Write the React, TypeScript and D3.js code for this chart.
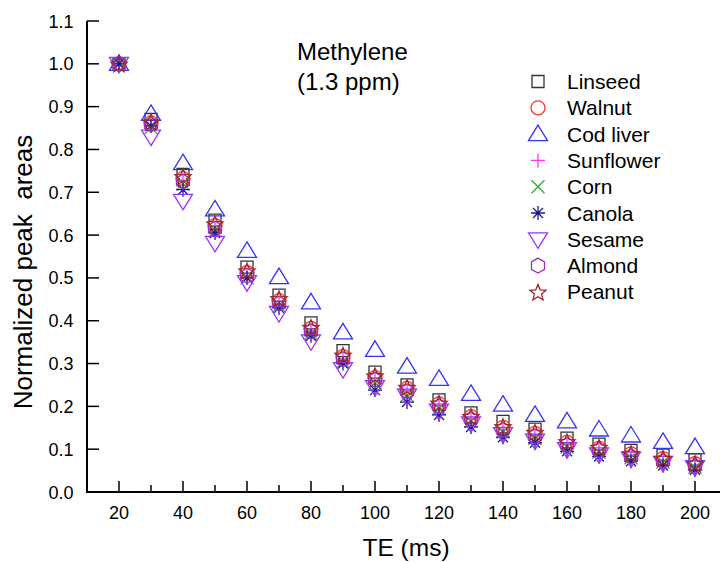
import React from "react";
import * as d3 from "d3";

const te = [20, 30, 40, 50, 60, 70, 80, 90, 100, 110, 120, 130, 140, 150, 160, 170, 180, 190, 200];

const linseed = [1.0, 0.87, 0.742, 0.635, 0.525, 0.46, 0.395, 0.33, 0.28, 0.25, 0.215, 0.185, 0.165, 0.147, 0.126, 0.112, 0.097, 0.086, 0.075];
const walnut = [1.0, 0.862, 0.732, 0.622, 0.512, 0.447, 0.382, 0.316, 0.267, 0.242, 0.206, 0.176, 0.151, 0.137, 0.116, 0.102, 0.089, 0.078, 0.066];
const codLiver = [1.0, 0.883, 0.768, 0.66, 0.563, 0.502, 0.443, 0.373, 0.332, 0.293, 0.264, 0.229, 0.204, 0.18, 0.165, 0.146, 0.132, 0.117, 0.105];
const sunflower = [1.0, 0.856, 0.726, 0.616, 0.506, 0.441, 0.376, 0.311, 0.261, 0.236, 0.201, 0.171, 0.146, 0.131, 0.111, 0.099, 0.086, 0.074, 0.063];
const corn = [1.0, 0.851, 0.72, 0.61, 0.5, 0.435, 0.37, 0.305, 0.255, 0.226, 0.195, 0.165, 0.14, 0.125, 0.105, 0.093, 0.08, 0.07, 0.058];
const canola = [1.0, 0.855, 0.706, 0.605, 0.5, 0.43, 0.365, 0.3, 0.238, 0.21, 0.18, 0.152, 0.128, 0.115, 0.095, 0.083, 0.072, 0.062, 0.052];
const sesame = [1.0, 0.83, 0.68, 0.582, 0.49, 0.418, 0.352, 0.287, 0.245, 0.225, 0.19, 0.16, 0.135, 0.12, 0.1, 0.088, 0.078, 0.068, 0.058];
const almond = [1.0, 0.858, 0.725, 0.615, 0.505, 0.44, 0.375, 0.31, 0.262, 0.235, 0.2, 0.17, 0.145, 0.13, 0.11, 0.098, 0.083, 0.072, 0.06];
const peanut = [1.0, 0.865, 0.737, 0.627, 0.517, 0.452, 0.385, 0.32, 0.272, 0.245, 0.208, 0.177, 0.153, 0.14, 0.118, 0.105, 0.09, 0.079, 0.067];

const seriesNames = ["Linseed", "Walnut", "Cod liver", "Sunflower", "Corn", "Canola", "Sesame", "Almond", "Peanut"];
const seriesValues = [linseed, walnut, codLiver, sunflower, corn, canola, sesame, almond, peanut];
const seriesColors = ["#333333", "#ff3333", "#3333ff", "#ff33ff", "#33aa33", "#1a1a8c", "#9933ff", "#9933bb", "#a02828"];
const seriesShapes = ["square", "circle", "triUp", "plus", "cross", "asterisk", "triDown", "hexagon", "star"];

const xTicks = [20, 40, 60, 80, 100, 120, 140, 160, 180, 200];
const xMinorTicks = [30, 50, 70, 90, 110, 130, 150, 170, 190];
const yTicks = [0.0, 0.1, 0.2, 0.3, 0.4, 0.5, 0.6, 0.7, 0.8, 0.9, 1.0, 1.1];

const FONT = "'Liberation Sans', Arial, sans-serif";

function markerPath(shape: string): string {
  switch (shape) {
    case "square":
      return "M-6,-6H6V6H-6Z";
    case "circle":
      return d3.arc()({ innerRadius: 0, outerRadius: 7, startAngle: 0, endAngle: 2 * Math.PI }) as string;
    case "triUp":
      return "M0,-9L9.5,6.5L-9.5,6.5Z";
    case "triDown":
      return "M0,9L9.5,-6.5L-9.5,-6.5Z";
    case "plus":
      return "M-7,0H7M0,-7V7";
    case "cross":
      return "M-6.5,-6.5L6.5,6.5M-6.5,6.5L6.5,-6.5";
    case "asterisk":
      return "M-7,0H7M0,-7V7M-5,-5L5,5M-5,5L5,-5";
    case "hexagon": {
      const pts = d3.range(6).map((i) => {
        const a = (Math.PI / 3) * i - Math.PI / 2;
        return [7.5 * Math.cos(a), 7.5 * Math.sin(a)];
      });
      return "M" + pts.map((p) => p.join(",")).join("L") + "Z";
    }
    case "star": {
      const pts = d3.range(10).map((i) => {
        const r = i % 2 === 0 ? 8.5 : 3.8;
        const a = (Math.PI / 5) * i - Math.PI / 2;
        return [r * Math.cos(a), r * Math.sin(a) + 1];
      });
      return "M" + pts.map((p) => p.join(",")).join("L") + "Z";
    }
  }
  return "";
}

export default function App() {
  const width = 720;
  const height = 562;
  const x = d3.scaleLinear().domain([10, 210]).range([87, 727]);
  const y = d3.scaleLinear().domain([0, 1.1]).range([492, 21]);

  return (
    <svg width={width} height={height} style={{ position: "absolute", left: 0, top: 0, background: "#fff" }}>
      <rect width={width} height={height} fill="#fff" />
      {/* axes */}
      <line x1={x(10)} x2={width} y1={y(0)} y2={y(0)} stroke="#000" strokeWidth={2} />
      <line x1={x(10)} x2={x(10)} y1={y(0) + 1} y2={y(1.1)} stroke="#000" strokeWidth={2} />
      {xTicks.map((t) => (
        <g key={"xt" + t}>
          <line x1={x(t)} x2={x(t)} y1={y(0)} y2={y(0) - 11} stroke="#000" strokeWidth={1.5} />
          <text x={x(t)} y={y(0) + 27} textAnchor="middle" fontFamily={FONT} fontSize={18} fill="#000">
            {t}
          </text>
        </g>
      ))}
      {xMinorTicks.map((t) => (
        <line key={"xm" + t} x1={x(t)} x2={x(t)} y1={y(0)} y2={y(0) - 7} stroke="#000" strokeWidth={1.5} />
      ))}
      {yTicks.map((t) => (
        <g key={"yt" + t}>
          <line x1={x(10)} x2={x(10) + 12} y1={y(t)} y2={y(t)} stroke="#000" strokeWidth={1.5} />
          <text x={73.5} y={y(t) + 6.5} textAnchor="end" fontFamily={FONT} fontSize={18} fill="#000">
            {t.toFixed(1)}
          </text>
        </g>
      ))}
      <text x={406} y={556} textAnchor="middle" fontFamily={FONT} fontSize={24.5} fill="#000">
        TE (ms)
      </text>
      <text
        transform={`translate(32,272) rotate(-90)`}
        textAnchor="middle"
        fontFamily={FONT}
        fontSize={26}
        fill="#000"
        style={{ whiteSpace: "pre" }}
      >
        {"Normalized peak  areas"}
      </text>
      {/* title */}
      <text x={297} y={60} fontFamily={FONT} fontSize={24} fill="#000">
        Methylene
      </text>
      <text x={297} y={90} fontFamily={FONT} fontSize={24} fill="#000">
        (1.3 ppm)
      </text>
      {/* data */}
      {seriesValues.map((vals, si) => (
        <g key={"s" + si}>
          {vals.map((v, i) => (
            <path
              key={i}
              d={markerPath(seriesShapes[si])}
              transform={`translate(${x(te[i])},${y(v)})`}
              fill="none"
              stroke={seriesColors[si]}
              strokeWidth={1.3}
            />
          ))}
        </g>
      ))}
      {/* legend */}
      {seriesNames.map((name, si) => {
        const ly = 81.5 + si * 26.3;
        return (
          <g key={"l" + si}>
            <path
              d={markerPath(seriesShapes[si])}
              transform={`translate(538,${ly})`}
              fill="none"
              stroke={seriesColors[si]}
              strokeWidth={1.3}
            />
            <text x={567} y={ly + 7.5} fontFamily={FONT} fontSize={21} fill="#000">
              {name}
            </text>
          </g>
        );
      })}
    </svg>
  );
}
